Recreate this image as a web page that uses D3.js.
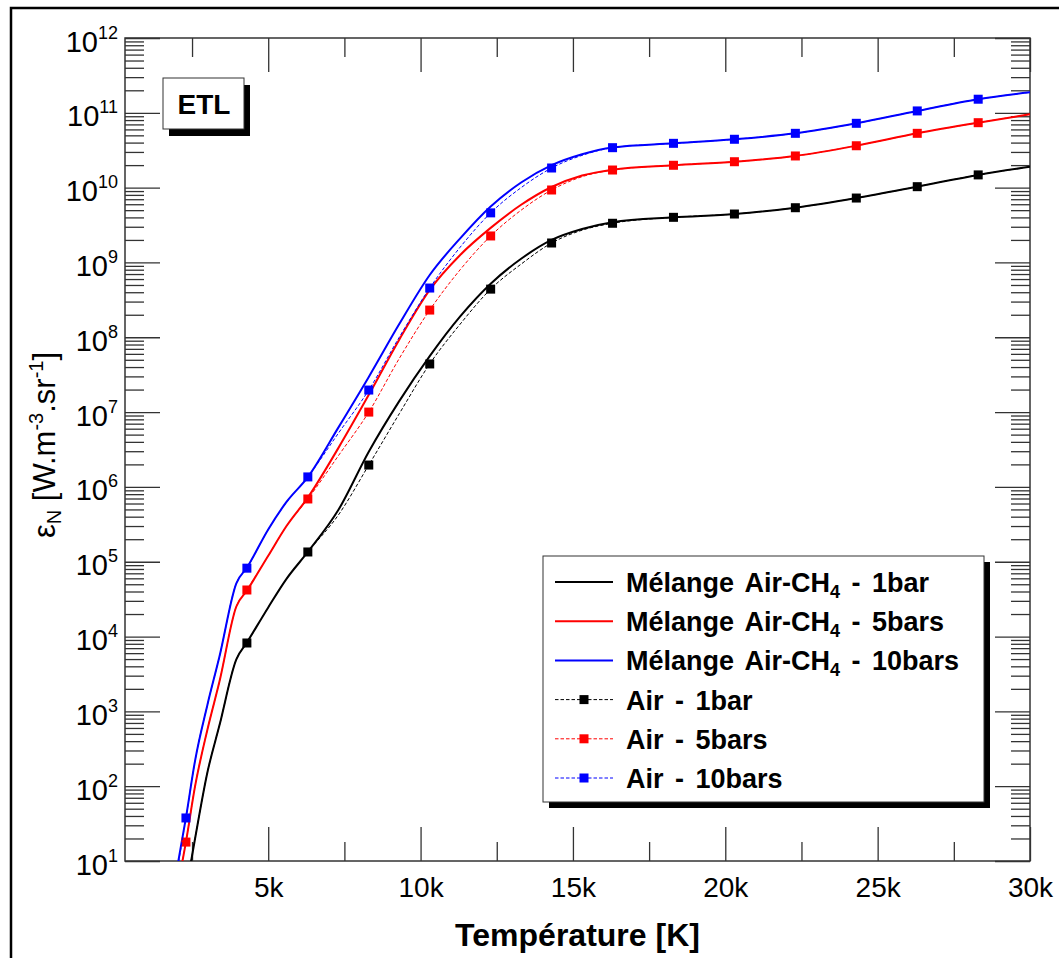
<!DOCTYPE html>
<html><head><meta charset="utf-8">
<script src="https://cdn.jsdelivr.net/npm/d3@7"></script>
<style>
html,body{margin:0;padding:0;background:#fff;}
svg{display:block;font-family:"Liberation Sans",Arial,sans-serif;}
</style></head><body>
<svg id="chart" width="1059" height="958"></svg>
<script>
// ---------- data ----------
const tempGrid = [2000, 2300, 2600, 3000, 3400, 3950, 4300, 5000, 5600, 6300, 7300, 8300, 9300, 10300, 11300, 12300, 13300, 14300, 15300, 16300, 18300, 20300, 22300, 24300, 26300, 28300, 30000];
const markerTemps = [2300, 4300, 6300, 8300, 10300, 12300, 14300, 16300, 18300, 20300, 22300, 24300, 26300, 28300];

const melange1bar  = [0.8, 4, 20, 1.5e2, 6.5e2, 4.9e3, 8.3e3, 2.45e4, 5.9e4, 1.35e5, 4.9e5, 2.95e6, 1.4e7, 5.6e7, 1.9e8, 5.2e8, 1.12e9, 2.0e9, 2.8e9, 3.45e9, 4.01e9, 4.44e9, 5.39e9, 7.26e9, 1.03e10, 1.48e10, 1.90e10];
const melange5bar  = [4, 18, 1.0e2, 5.6e2, 2.5e3, 2.5e4, 4.1e4, 1.2e5, 3.0e5, 7.2e5, 3.3e6, 1.7e7, 9.3e7, 4.3e8, 1.26e9, 2.9e9, 5.9e9, 1.02e10, 1.45e10, 1.74e10, 1.99e10, 2.22e10, 2.65e10, 3.63e10, 5.32e10, 7.38e10, 9.55e10];
const melange10bar = [7.6, 38, 2.2e2, 1.2e3, 5.4e3, 5.1e4, 8.3e4, 2.7e5, 6.3e5, 1.35e6, 6.2e6, 2.95e7, 1.5e8, 6.8e8, 2.1e9, 5.6e9, 1.17e10, 2.0e10, 2.8e10, 3.45e10, 3.91e10, 4.43e10, 5.32e10, 7.24e10, 1.06e11, 1.52e11, 1.88e11];

const air1bar  = [0.8, 4, 20, 1.5e2, 6.5e2, 4.9e3, 8.2e3, 2.45e4, 5.9e4, 1.35e5, 4.2e5, 1.96e6, 9.5e6, 4.4e7, 1.5e8, 4.4e8, 9.5e8, 1.82e9, 2.7e9, 3.34e9, 4.01e9, 4.44e9, 5.39e9, 7.26e9, 1.03e10, 1.48e10, 1.90e10];
const air5bar  = [4, 17.9, 1.0e2, 5.6e2, 2.5e3, 2.5e4, 4.19e4, 1.2e5, 3.0e5, 6.9e5, 2.6e6, 1.0e7, 5.2e7, 2.31e8, 8.0e8, 2.26e9, 5.0e9, 9.3e9, 1.4e10, 1.72e10, 1.99e10, 2.22e10, 2.65e10, 3.63e10, 5.32e10, 7.38e10, 9.55e10];
const air10bar = [7, 37.6, 2.2e2, 1.2e3, 5.4e3, 5.1e4, 8.2e4, 2.7e5, 6.2e5, 1.36e6, 5.2e6, 1.97e7, 1.0e8, 4.55e8, 1.6e9, 4.6e9, 1.0e10, 1.83e10, 2.7e10, 3.42e10, 3.91e10, 4.43e10, 5.32e10, 7.24e10, 1.06e11, 1.52e11, 1.88e11];

const xTickValues = [5000, 10000, 15000, 20000, 25000, 30000];
const xTickLabels = ["5k", "10k", "15k", "20k", "25k", "30k"];
const xMinorTicks = [2500, 7500, 12500, 17500, 22500, 27500];
const yExponents = [1, 2, 3, 4, 5, 6, 7, 8, 9, 10, 11, 12];

const seriesNames = ["Mélange Air-CH4 - 1bar", "Mélange Air-CH4 - 5bars", "Mélange Air-CH4 - 10bars", "Air - 1bar", "Air - 5bars", "Air - 10bars"];
const seriesColors = ["#000000", "#ff0000", "#0000ff", "#000000", "#ff0000", "#0000ff"];
const xTitle = "Température [K]";
const boxLabel = "ETL";

// ---------- layout ----------
const svg = d3.select("#chart");
const L = 125, R = 1030, T = 38, B = 861;
const x = d3.scaleLinear().domain([300, 30000]).range([L, R]);
const y = d3.scaleLog().domain([10, 1e12]).range([B, T]);
const FONT = '"Liberation Sans", Arial, sans-serif';
const tickCol = "#333";

// outer frame
svg.append("rect").attr("x", 11).attr("y", 8).attr("width", 1200).attr("height", 1200)
  .attr("fill", "none").attr("stroke", "#000").attr("stroke-width", 2.5);

// clip
svg.append("clipPath").attr("id", "clip").append("rect")
  .attr("x", L).attr("y", T).attr("width", R - L).attr("height", B - T);

// ---------- axes ----------
function styleAxis(g) {
  g.select(".domain").remove();
  g.selectAll(".tick line").attr("stroke", tickCol).attr("stroke-width", 1.3);
}
svg.append("g").attr("transform", `translate(0,${B})`)
  .call(d3.axisBottom(x).tickValues(xTickValues).tickSize(-34).tickPadding(16).tickFormat((d, i) => xTickLabels[i]))
  .call(styleAxis)
  .call(g => g.selectAll("text").attr("font-size", 28).attr("font-family", FONT).attr("fill", "#000"));
svg.append("g").attr("transform", `translate(0,${B})`)
  .call(d3.axisBottom(x).tickValues(xMinorTicks).tickSize(-19).tickFormat("")).call(styleAxis);
svg.append("g").attr("transform", `translate(0,${T})`)
  .call(d3.axisTop(x).tickValues(xTickValues).tickSize(-34).tickFormat("")).call(styleAxis);
svg.append("g").attr("transform", `translate(0,${T})`)
  .call(d3.axisTop(x).tickValues(xMinorTicks).tickSize(-19).tickFormat("")).call(styleAxis);

const decades = yExponents.map(e => Math.pow(10, e));
const minorY = [];
yExponents.slice(0, -1).forEach(e => { for (let k = 2; k <= 9; k++) minorY.push(k * Math.pow(10, e)); });

svg.append("g").attr("transform", `translate(${L},0)`)
  .call(d3.axisLeft(y).tickValues(decades).tickSize(-35).tickFormat("")).call(styleAxis);
svg.append("g").attr("transform", `translate(${L},0)`)
  .call(d3.axisLeft(y).tickValues(minorY).tickSize(-19).tickFormat("")).call(styleAxis);
svg.append("g").attr("transform", `translate(${R},0)`)
  .call(d3.axisRight(y).tickValues(decades).tickSize(-35).tickFormat("")).call(styleAxis);
svg.append("g").attr("transform", `translate(${R},0)`)
  .call(d3.axisRight(y).tickValues(minorY).tickSize(-19).tickFormat("")).call(styleAxis);

// y tick labels with superscripts
const yl = svg.append("g").attr("font-family", FONT).attr("fill", "#000");
yExponents.forEach(e => {
  const t = yl.append("text").attr("x", 118).attr("y", y(Math.pow(10, e)) + 13.5).attr("text-anchor", "end");
  t.append("tspan").attr("font-size", 29).text("10");
  t.append("tspan").attr("font-size", 18).attr("dy", -13).text(e);
});

// plot border
svg.append("rect").attr("x", L).attr("y", T).attr("width", R - L).attr("height", B - T)
  .attr("fill", "none").attr("stroke", tickCol).attr("stroke-width", 1.5);

// axis titles
svg.append("text").attr("x", (L + R) / 2).attr("y", 946).attr("text-anchor", "middle")
  .attr("font-family", FONT).attr("font-size", 32).attr("font-weight", "bold").text(xTitle);

const yt = svg.append("text").attr("transform", "translate(55,445) rotate(-90)")
  .attr("text-anchor", "middle").attr("font-family", FONT).attr("font-size", 31);
yt.append("tspan").text("ε");
yt.append("tspan").attr("font-size", 20).attr("dy", 6).text("N");
yt.append("tspan").attr("dy", -6).text(" [W.m");
yt.append("tspan").attr("font-size", 20).attr("dy", -12).text("-3");
yt.append("tspan").attr("dy", 12).text(".sr");
yt.append("tspan").attr("font-size", 20).attr("dy", -12).text("-1");
yt.append("tspan").attr("dy", 12).text("]");

// ---------- data marks ----------
const melange = [melange1bar, melange5bar, melange10bar];
const air = [air1bar, air5bar, air10bar];
const line = d3.line()
  .x(d => x(d[0]))
  .y(d => y(d[1]))
  .curve(d3.curveMonotoneX);
const plot = svg.append("g").attr("clip-path", "url(#clip)");

melange.forEach((vals, i) => {
  plot.append("path").datum(tempGrid.map((t, j) => [t, vals[j]]))
    .attr("d", line).attr("fill", "none").attr("stroke", seriesColors[i]).attr("stroke-width", 2);
});
const MS = 9;
air.forEach((vals, i) => {
  const pts = tempGrid.map((t, j) => [t, vals[j]]);
  plot.append("path").datum(pts)
    .attr("d", line).attr("fill", "none").attr("stroke", seriesColors[i + 3])
    .attr("stroke-width", 1).attr("stroke-dasharray", "3.5,2");
  plot.selectAll(null).data(pts.filter(p => markerTemps.includes(p[0]))).enter().append("rect")
    .attr("x", d => x(d[0]) - MS / 2).attr("y", d => y(d[1]) - MS / 2)
    .attr("width", MS).attr("height", MS).attr("fill", seriesColors[i + 3]);
});

// ---------- ETL box ----------
svg.append("rect").attr("x", 169).attr("y", 85).attr("width", 81).attr("height", 51).attr("fill", "#000");
svg.append("rect").attr("x", 163).attr("y", 78).attr("width", 81).attr("height", 51)
  .attr("fill", "#fff").attr("stroke", "#333").attr("stroke-width", 1);
svg.append("text").attr("x", 204).attr("y", 114).attr("text-anchor", "middle")
  .attr("font-family", FONT).attr("font-size", 28).attr("font-weight", "bold").text(boxLabel);

// ---------- legend ----------
const lgX = 543, lgY = 556, lgW = 441, lgH = 246;
svg.append("rect").attr("x", lgX + 6).attr("y", lgY + 6).attr("width", lgW).attr("height", lgH).attr("fill", "#000");
svg.append("rect").attr("x", lgX).attr("y", lgY).attr("width", lgW).attr("height", lgH)
  .attr("fill", "#fff").attr("stroke", "#333").attr("stroke-width", 1);
seriesNames.forEach((name, i) => {
  const ry = 582 + i * 39.2;
  const dashed = i >= 3;
  svg.append("line").attr("x1", 555).attr("x2", 613).attr("y1", ry).attr("y2", ry)
    .attr("stroke", seriesColors[i]).attr("stroke-width", dashed ? 1 : 2)
    .attr("stroke-dasharray", dashed ? "3.5,2" : null);
  if (dashed) {
    svg.append("rect").attr("x", 584 - MS / 2).attr("y", ry - MS / 2).attr("width", MS).attr("height", MS).attr("fill", seriesColors[i]);
  }
  const t = svg.append("text").attr("x", 626).attr("y", ry + 10)
    .attr("font-family", FONT).attr("font-size", 27).attr("font-weight", "bold").attr("word-spacing", 4);
  const m = name.match(/^(.*CH)4(.*)$/);
  if (m) {
    t.append("tspan").text(m[1]);
    t.append("tspan").attr("font-size", 18).attr("dy", 6).text("4");
    t.append("tspan").attr("dy", -6).text(m[2]);
  } else {
    t.text(name);
  }
});
</script>
</body></html>
